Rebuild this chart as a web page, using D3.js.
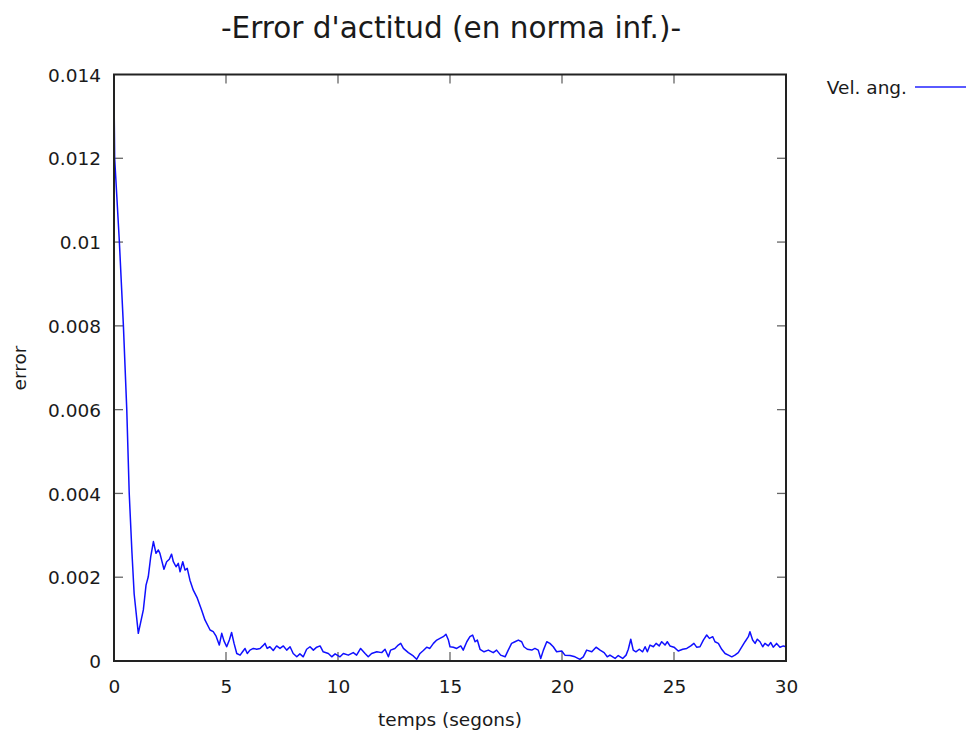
<!DOCTYPE html>
<html>
<head>
<meta charset="utf-8">
<script src="https://cdn.jsdelivr.net/npm/d3@7"></script>
<style>
  html, body { margin: 0; padding: 0; background: #fff; }
  svg { display: block; font-family: "DejaVu Sans", sans-serif; }
</style>
</head>
<body>
<svg id="chart" width="966" height="735"></svg>
<script>
// ---- data ----
const title = "-Error d'actitud (en norma inf.)-";
const xLabel = "temps (segons)";
const yLabel = "error";
const seriesName = "Vel. ang.";
const xTicks = [0, 5, 10, 15, 20, 25, 30];
const yTicks = [0, 0.002, 0.004, 0.006, 0.008, 0.01, 0.012, 0.014];
const yTickLabels = ["0", "0.002", "0.004", "0.006", "0.008", "0.01", "0.012", "0.014"];

const timeValues = [
  0, 0.03, 0.24, 0.42, 0.57, 0.68, 0.80, 0.90, 1.085, 1.31, 1.43, 1.53, 1.64, 1.76,
  1.875, 1.98, 2.05, 2.23, 2.35, 2.47, 2.57, 2.65, 2.77, 2.87, 2.95, 3.07, 3.17, 3.27,
  3.39, 3.54, 3.72, 3.91, 4.06, 4.29, 4.43, 4.55, 4.70, 4.81, 4.91, 5.03, 5.15, 5.25,
  5.36, 5.48, 5.63, 5.74, 5.85, 5.95, 6.07, 6.22, 6.37, 6.52, 6.64, 6.74, 6.84, 6.96,
  7.11, 7.26, 7.41, 7.56, 7.71, 7.86, 8.0, 8.16, 8.30, 8.45, 8.60, 8.75, 8.9, 9.05,
  9.20, 9.34, 9.57, 9.72, 9.87, 10.09, 10.24, 10.46, 10.68, 10.83, 11.01, 11.21, 11.35,
  11.5, 11.73, 11.95, 12.1, 12.25, 12.35, 12.54, 12.69, 12.8, 12.92, 13.14, 13.36,
  13.51, 13.66, 13.81, 13.96, 14.1, 14.26, 14.41, 14.55, 14.7, 14.82, 14.93, 15.0,
  15.15, 15.3, 15.48, 15.59, 15.75, 15.89, 16.01, 16.12, 16.22, 16.34, 16.52, 16.71,
  16.93, 17.08, 17.26, 17.46, 17.6, 17.75, 17.9, 18.05, 18.2, 18.3, 18.45, 18.65,
  18.79, 18.94, 19.05, 19.17, 19.32, 19.46, 19.61, 19.76, 19.99, 20.13, 20.36, 20.58,
  20.8, 20.95, 21.1, 21.33, 21.52, 21.7, 21.88, 22.02, 22.14, 22.37, 22.51, 22.71,
  22.86, 22.96, 23.07, 23.18, 23.3, 23.45, 23.6, 23.71, 23.81, 23.93, 24.08, 24.2,
  24.34, 24.45, 24.6, 24.7, 24.82, 25.0, 25.19, 25.39, 25.57, 25.75, 25.89, 26.01,
  26.16, 26.31, 26.46, 26.58, 26.73, 26.83, 26.98, 27.13, 27.28, 27.43, 27.58, 27.72,
  27.87, 28.02, 28.17, 28.32, 28.39, 28.51, 28.62, 28.72, 28.84, 28.96, 29.06, 29.21,
  29.32, 29.43, 29.58, 29.73, 29.88, 30
];
const errorValues = [
  0.01356, 0.0120, 0.0100, 0.0080, 0.0060, 0.0040, 0.0026, 0.0016, 0.00066, 0.00122, 0.00181, 0.00201, 0.00249, 0.00285,
  0.00257, 0.00265, 0.00257, 0.00219, 0.00237, 0.00243, 0.00255, 0.00237, 0.00225, 0.00233, 0.00213, 0.00237, 0.00217, 0.00221,
  0.00193, 0.00169, 0.0015, 0.00122, 0.00098, 0.00074, 0.0007, 0.0006, 0.00038, 0.00066, 0.00048, 0.00034, 0.0005, 0.00068,
  0.00042, 0.00018, 0.00014, 0.00022, 0.0003, 0.00018, 0.00026, 0.0003, 0.00028, 0.0003, 0.00036, 0.00042, 0.0003, 0.00034,
  0.00025, 0.00036, 0.0003, 0.00036, 0.00026, 0.00034, 0.00018, 0.0001, 0.00017, 0.0001, 0.00028, 0.00034, 0.00026, 0.00033,
  0.00036, 0.00022, 0.00018, 0.0001, 0.00017, 0.0001, 0.00018, 0.00014, 0.0002, 0.00014, 0.0003, 0.00018, 0.0001,
  0.00018, 0.00022, 0.0002, 0.00028, 0.0001, 0.00026, 0.0003, 0.00038, 0.00042, 0.0003, 0.0002, 0.00012,
  0.00004, 0.00018, 0.00025, 0.00033, 0.0003, 0.00042, 0.0005, 0.00054, 0.00058, 0.00064, 0.0005, 0.00034,
  0.00033, 0.0003, 0.00036, 0.00026, 0.00046, 0.00058, 0.00062, 0.00046, 0.0005, 0.00028, 0.00022, 0.00026,
  0.0002, 0.00026, 0.00014, 0.0001, 0.00026, 0.00042, 0.00046, 0.0005, 0.00046, 0.00034, 0.00028, 0.00026,
  0.0003, 0.00026, 0.00006, 0.00026, 0.00046, 0.00042, 0.00034, 0.00022, 0.00024, 0.00014, 0.00013, 0.0001,
  0.00004, 0.0001, 0.00026, 0.00022, 0.00033, 0.00026, 0.0002, 0.0001, 0.00014, 0.00006, 0.00013, 0.00006,
  0.00014, 0.00028, 0.00052, 0.00026, 0.00022, 0.00028, 0.00022, 0.00034, 0.00022, 0.00038, 0.00034, 0.00042,
  0.00036, 0.00046, 0.00038, 0.00046, 0.00036, 0.00033, 0.00024, 0.00028, 0.0003, 0.00036, 0.00042, 0.00033,
  0.00034, 0.0005, 0.00062, 0.00054, 0.00058, 0.00046, 0.00042, 0.00028, 0.00018, 0.00014, 0.0001, 0.00014,
  0.0002, 0.00033, 0.00046, 0.00058, 0.0007, 0.0005, 0.00042, 0.00052, 0.00046, 0.00034, 0.00042, 0.00036,
  0.00044, 0.00033, 0.00042, 0.00033, 0.00036, 0.00034
];

// ---- layout ----
const plot = { left: 114, top: 74.5, right: 786, bottom: 661 };
const svg = d3.select("#chart");

const x = d3.scaleLinear().domain([0, 30]).range([plot.left, plot.right]);
const y = d3.scaleLinear().domain([0, 0.014]).range([plot.bottom, plot.top]);

const tickLen = 9;
const tickColor = "#666";
const textColor = "#1a1a1a";
const labelSize = "18.5px";

// ticks (inward, mirrored)
const tickG = svg.append("g").attr("stroke", tickColor).attr("stroke-width", 1.3);
xTicks.forEach(t => {
  if (t === 0 || t === 30) return;
  tickG.append("line").attr("x1", x(t)).attr("x2", x(t)).attr("y1", plot.bottom).attr("y2", plot.bottom - tickLen);
  tickG.append("line").attr("x1", x(t)).attr("x2", x(t)).attr("y1", plot.top).attr("y2", plot.top + tickLen);
});
yTicks.forEach(t => {
  if (t === 0 || t === 0.014) return;
  tickG.append("line").attr("x1", plot.left).attr("x2", plot.left + tickLen).attr("y1", y(t)).attr("y2", y(t));
  tickG.append("line").attr("x1", plot.right).attr("x2", plot.right - tickLen).attr("y1", y(t)).attr("y2", y(t));
});

// tick labels
const xAxis = d3.axisBottom(x).tickValues(xTicks).tickSize(0).tickPadding(0).tickFormat(d3.format("d"));
const xg = svg.append("g").attr("transform", `translate(0,${plot.bottom})`).call(xAxis);
xg.select(".domain").remove();
xg.selectAll("text").attr("y", 32).attr("dy", 0).attr("fill", textColor)
  .style("font-size", labelSize).style("font-family", "DejaVu Sans, sans-serif");

const yAxis = d3.axisLeft(y).tickValues(yTicks).tickSize(0).tickPadding(0)
  .tickFormat((d, i) => yTickLabels[i]);
const yg = svg.append("g").attr("transform", `translate(${plot.left - 13},0)`).call(yAxis);
yg.select(".domain").remove();
yg.selectAll("text").attr("x", 0).attr("dy", "0.36em").attr("fill", textColor)
  .style("font-size", labelSize).style("font-family", "DejaVu Sans, sans-serif");

// data line
const line = d3.line().x((d, i) => x(timeValues[i])).y(d => y(d));
svg.append("path")
  .datum(errorValues)
  .attr("fill", "none")
  .attr("stroke", "#1010ff")
  .attr("stroke-width", 1.5)
  .attr("stroke-linejoin", "round")
  .attr("d", line);

// border
svg.append("rect")
  .attr("x", plot.left).attr("y", plot.top)
  .attr("width", plot.right - plot.left).attr("height", plot.bottom - plot.top)
  .attr("fill", "none").attr("stroke", "#222").attr("stroke-width", 2);

// title
svg.append("text").attr("x", 451).attr("y", 38).attr("text-anchor", "middle")
  .attr("fill", textColor).style("font-size", "29.5px").text(title);

// axis titles
svg.append("text").attr("x", 450).attr("y", 726).attr("text-anchor", "middle")
  .attr("fill", textColor).style("font-size", labelSize).text(xLabel);
svg.append("text").attr("transform", "translate(26,368) rotate(-90)").attr("text-anchor", "middle")
  .attr("fill", textColor).style("font-size", labelSize).text(yLabel);

// legend
svg.append("text").attr("x", 907).attr("y", 87).attr("dy", "0.36em").attr("text-anchor", "end")
  .attr("fill", textColor).style("font-size", labelSize).text(seriesName);
svg.append("line").attr("x1", 915).attr("x2", 966).attr("y1", 87).attr("y2", 87)
  .attr("stroke", "#5a5aff").attr("stroke-width", 2);
</script>
</body>
</html>
